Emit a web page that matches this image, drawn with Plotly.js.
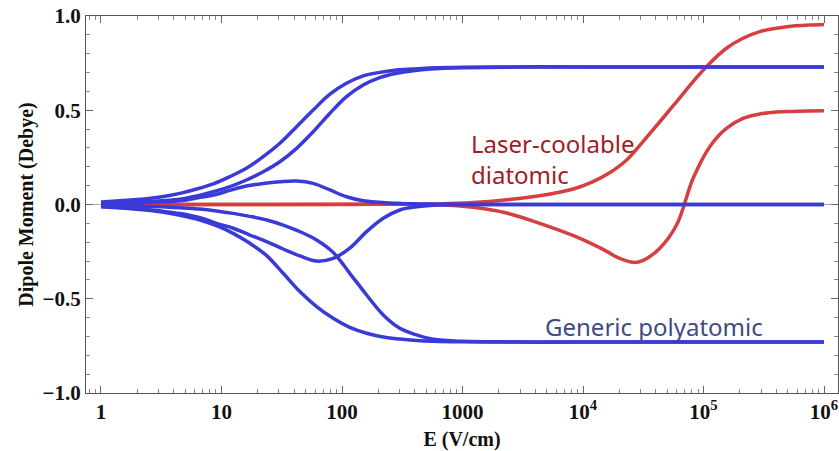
<!DOCTYPE html>
<html>
<head>
<meta charset="utf-8">
<script src="https://cdn.plot.ly/plotly-3.0.1.min.js"></script>
<style>html,body{margin:0;padding:0;background:#fff;}#chart{width:839px;height:451px;}</style>
</head>
<body>
<div id="chart"></div>
<script>
// ---- data (E in V/cm, dipole moment in Debye) ----
const polyA_E = [1, 2, 3.2, 4.52, 6.22, 8.55, 11.75, 16.1, 22.2, 30.5, 42, 57.7, 79.4, 109, 150, 206, 283, 390, 536, 1000, 3000, 1e4, 1e5, 1e6];
const polyA_D = [0.013, 0.026, 0.041, 0.059, 0.082, 0.11, 0.148, 0.192, 0.254, 0.325, 0.413, 0.501, 0.585, 0.643, 0.682, 0.701, 0.714, 0.719, 0.724, 0.728, 0.73, 0.73, 0.73, 0.73];

const polyB_E = [1, 2, 3.2, 4.52, 6.22, 8.55, 11.75, 16.1, 22.2, 30.5, 42, 57.7, 79.4, 109, 150, 206, 283, 390, 536, 1000, 3000, 1e4, 1e5, 1e6];
const polyB_D = [0.007, 0.013, 0.02, 0.028, 0.045, 0.068, 0.095, 0.13, 0.174, 0.227, 0.298, 0.386, 0.484, 0.572, 0.634, 0.673, 0.696, 0.71, 0.719, 0.726, 0.729, 0.73, 0.73, 0.73];

const polyC_E = [1, 2, 3.2, 4.52, 6.22, 8.55, 11.75, 16.1, 22.2, 30.5, 42, 57.7, 79.4, 109, 150, 206, 283, 390, 536, 1000, 3000, 1e4, 1e5, 1e6];
const polyC_D = [0.004, 0.009, 0.014, 0.02, 0.035, 0.05, 0.075, 0.098, 0.112, 0.121, 0.125, 0.112, 0.077, 0.041, 0.02, 0.012, 0.006, 0.004, 0.002, 0.001, 0, 0, 0, 0];

const polyD_E = [1, 2, 3.2, 4.52, 6.62, 9.1, 12.5, 17.2, 23.7, 32.5, 44.7, 61.5, 84.5, 116, 160, 220, 302, 415, 570, 1000, 3000, 1e4, 1e5, 1e6];
const polyD_D = [-0.011, -0.022, -0.035, -0.048, -0.07, -0.1, -0.126, -0.162, -0.197, -0.236, -0.273, -0.3, -0.286, -0.232, -0.144, -0.073, -0.029, -0.012, -0.004, -0.001, 0, 0, 0, 0];

const polyE_E = [1, 2, 3.2, 4.52, 6.62, 9.1, 12.5, 17.2, 23.7, 32.5, 44.7, 61.5, 84.5, 116, 160, 220, 302, 415, 570, 1000, 3000, 1e4, 1e5, 1e6];
const polyE_D = [-0.004, -0.008, -0.012, -0.017, -0.024, -0.034, -0.047, -0.063, -0.082, -0.109, -0.144, -0.188, -0.254, -0.365, -0.48, -0.586, -0.657, -0.692, -0.715, -0.726, -0.729, -0.73, -0.73, -0.73];

const polyF_E = [1, 2, 3.2, 4.52, 6.62, 9.1, 12.5, 17.2, 23.7, 32.5, 44.7, 61.5, 84.5, 116, 160, 220, 302, 415, 570, 1000, 3000, 1e4, 1e5, 1e6];
const polyF_D = [-0.012, -0.025, -0.04, -0.057, -0.082, -0.112, -0.153, -0.206, -0.271, -0.365, -0.462, -0.542, -0.604, -0.652, -0.683, -0.703, -0.714, -0.721, -0.725, -0.728, -0.73, -0.73, -0.73, -0.73];

const diatUp_E = [1, 10, 100, 646, 1230, 2320, 4370, 8320, 12000, 15850, 22900, 31600, 43400, 59700, 82000, 112700, 154900, 212800, 293100, 402700, 553400, 760300, 1e6];
const diatUp_D = [0, 0, 0.001, 0.003, 0.01, 0.025, 0.046, 0.082, 0.12, 0.16, 0.235, 0.335, 0.439, 0.545, 0.652, 0.749, 0.829, 0.882, 0.917, 0.935, 0.947, 0.952, 0.955];

const diatLo_E = [1, 10, 100, 646, 1230, 2320, 4370, 8320, 12000, 15850, 19950, 26100, 31600, 43400, 59700, 82000, 112700, 154900, 212800, 293100, 402700, 553400, 760300, 1e6];
const diatLo_D = [0, 0, 0, -0.001, -0.015, -0.045, -0.1, -0.165, -0.21, -0.25, -0.285, -0.307, -0.296, -0.232, -0.109, 0.139, 0.307, 0.404, 0.457, 0.48, 0.491, 0.494, 0.496, 0.497];

const xTickVals = [1, 10, 100, 1000, 1e4, 1e5, 1e6];
const xTickText = ['1', '10', '100', '1000', '10<sup>4</sup>', '10<sup>5</sup>', '10<sup>6</sup>'];
const yTickVals = [-1, -0.5, 0, 0.5, 1];
const yTickText = ['\u22121.0', '\u22120.5', '0.0', '0.5', '1.0'];

const labelDiatomic = 'Laser-coolable<br>diatomic';
const labelPoly = 'Generic polyatomic';

// ---- styling ----
const BLUE = '#3a3ad9';
const RED = '#d63f3f';
const serif = 'Liberation Serif, Times New Roman, serif';

function line(x, y, color, name) {
  return {x: x, y: y, type: 'scatter', mode: 'lines', name: name,
          line: {color: color, width: 3.5, shape: 'spline', smoothing: 1, simplify: false},
          hoverinfo: 'skip', showlegend: false};
}

const traces = [
  line(diatUp_E, diatUp_D, RED, 'diatomic 1'),
  line(diatLo_E, diatLo_D, RED, 'diatomic 2'),
  line(polyA_E, polyA_D, BLUE, 'poly A'),
  line(polyB_E, polyB_D, BLUE, 'poly B'),
  line(polyC_E, polyC_D, BLUE, 'poly C'),
  line(polyD_E, polyD_D, BLUE, 'poly D'),
  line(polyE_E, polyE_D, BLUE, 'poly E'),
  line(polyF_E, polyF_D, BLUE, 'poly F')
];

// minor tick positions (log axis)
const xMinor = [];
for (let d = -1; d <= 6; d++) for (let k = 2; k <= 9; k++) xMinor.push(k * Math.pow(10, d));

const layout = {
  width: 839, height: 451,
  margin: {l: 86, r: 1, t: 16, b: 58},
  paper_bgcolor: '#fff', plot_bgcolor: '#fff',
  showlegend: false,
  xaxis: {
    type: 'log', range: [-0.1244, 6.116],
    tickmode: 'array', tickvals: xTickVals, ticktext: xTickText,
    ticks: 'inside', ticklen: 7, tickcolor: '#666', tickwidth: 1,
    minor: {tickmode: 'array', tickvals: xMinor, ticks: 'inside', ticklen: 4, tickcolor: '#888'},
    showline: true, mirror: 'ticks', linecolor: '#555', linewidth: 1,
    showgrid: false, zeroline: false,
    tickfont: {family: serif, size: 21, color: '#111', weight: 'bold'},
    title: {text: 'E (V/cm)', font: {family: serif, size: 20, color: '#111', weight: 'bold'}, standoff: 8}
  },
  yaxis: {
    range: [-1, 1],
    tickmode: 'array', tickvals: yTickVals, ticktext: yTickText,
    ticks: 'inside', ticklen: 7, tickcolor: '#666', tickwidth: 1,
    minor: {dtick: 0.1, ticks: 'inside', ticklen: 4, tickcolor: '#888'},
    showline: true, mirror: 'ticks', linecolor: '#555', linewidth: 1,
    showgrid: false, zeroline: true, zerolinecolor: '#aaa', zerolinewidth: 1,
    tickfont: {family: serif, size: 21, color: '#111', weight: 'bold'},
    title: {text: 'Dipole Moment (Debye)', font: {family: serif, size: 20, color: '#111', weight: 'bold'}, standoff: 3}
  },
  annotations: [
    {text: labelDiatomic, xref: 'x', yref: 'y', x: 3.055, y: 0.24, xanchor: 'left', yanchor: 'middle',
     align: 'left', showarrow: false, font: {family: 'Noto Sans, Open Sans, sans-serif', size: 24, color: '#a21c26'}},
    {text: labelPoly, xref: 'x', yref: 'y', x: 3.67, y: -0.645, xanchor: 'left', yanchor: 'middle',
     align: 'left', showarrow: false, font: {family: 'Noto Sans, Open Sans, sans-serif', size: 24, color: '#3d4b85'}}
  ]
};

Plotly.newPlot('chart', traces, layout, {staticPlot: true, displayModeBar: false});
</script>
</body>
</html>
